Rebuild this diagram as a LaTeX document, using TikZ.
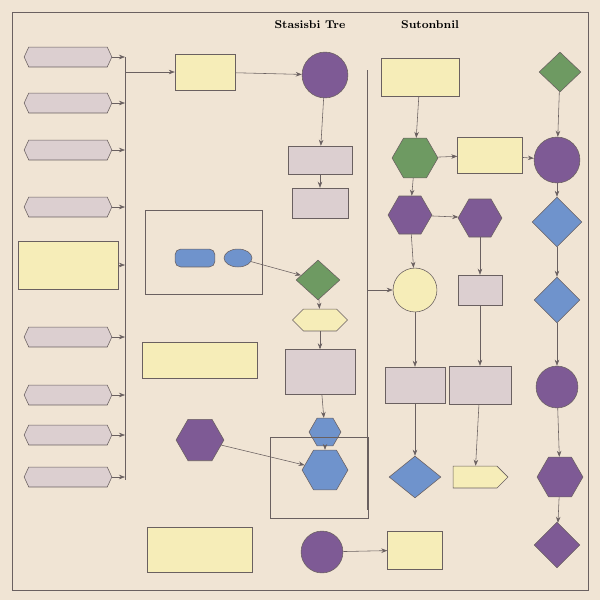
\documentclass[tikz,border=0pt]{standalone}
\usepackage[dvipsnames]{xcolor}
\usetikzlibrary{arrows.meta,shapes.geometric,shapes.symbols,positioning}
\definecolor{bg}{HTML}{F0E4D4}
\definecolor{paleyel}{HTML}{F6EDB8}
\definecolor{palegray}{HTML}{DCCFD0}
\definecolor{purp}{HTML}{7E5A95}
\definecolor{blu}{HTML}{6F93CC}
\definecolor{grn}{HTML}{6E9A62}
\definecolor{edge}{HTML}{6A6060}
\newcommand\pxu{0.709pt}
\tikzset{
  w/.style={minimum width=#1*\pxu},
  h/.style={minimum height=#1*\pxu},
  sz/.style={minimum size=#1*\pxu},
  tagbox/.style={draw=edge,fill=palegray,signal,signal to=west and east,signal pointer angle=130,w=88,h=20,inner sep=0pt,font=\tiny},
  yelbox/.style={draw=edge,fill=paleyel,w=#1,h=30,inner sep=0pt,font=\tiny},
  graybox/.style={draw=edge,fill=palegray,w=60,h=30,inner sep=0pt,font=\tiny},
  hexa/.style={draw=edge,fill=#1,regular polygon,regular polygon sides=6,sz=40,inner sep=0pt,font=\tiny,text=white},
  diam/.style={draw=edge,fill=#1,diamond,w=44,h=40,inner sep=0pt,font=\tiny,text=white},
  circ/.style={draw=edge,fill=#1,circle,sz=46,inner sep=0pt,font=\tiny,text=white},
  conn/.style={draw=edge,thin,-{Stealth[length=1.5mm]}},
  plain/.style={draw=edge,thin}
}
\begin{document}
\begin{tikzpicture}[x=0.025cm,y=-0.025cm]
\fill[bg] (0,0) rectangle (600,600);
\draw[edge] (12,12) rectangle (588,590);
\node[font=\footnotesize\bfseries] (t1) at (310,25) {Stasisbi Tre};
\node[font=\footnotesize\bfseries] (t2) at (430,25) {Sutonbnil};
% left column
\foreach[count=\i] \y in {57,103,150,207,337,395,435,477} {
  \node[tagbox] (l\i) at (68,\y) {};
}
\node[yelbox=100,h=48] (ly) at (68,265) {};
\draw[plain] (125,57) -- (125,480);
\foreach \n in {l1,l2,l3,l4,ly,l5,l6,l7,l8} {
  \draw[conn] (\n.east) -- (\n.east -| 125,0);
}
% middle
\node[yelbox=60,h=36] (y1) at (205,72) {};
\node[circ=purp,sz=46] (p1) at (325,75) {};
\draw[plain] (145,210) rectangle (262,294);
\node[draw=edge,fill=blu,rounded corners,w=40,h=18] (b1) at (195,258) {};
\node[draw=edge,fill=blu,ellipse,w=28,h=18,inner sep=0pt] (b2) at (238,258) {};
\node[graybox,w=64,h=28] (g1) at (320,160) {};
\node[graybox,w=56,h=30] (g2) at (320,203) {};
\node[diam=grn] (d1) at (318,280) {};
\node[draw=edge,fill=paleyel,signal,signal to=west and east,w=55,h=22,inner sep=0pt] (s1) at (320,320) {};
\node[yelbox=115,h=36] (y2) at (200,360) {};
\node[graybox,w=70,h=45] (g3) at (320,372) {};
\node[hexa=blu,sz=32] (h1) at (325,432) {};
\node[hexa=blu,sz=46] (h2) at (325,470) {};
\draw[plain] (270,437) rectangle (368,518);
\node[hexa=purp,sz=48] (h3) at (200,440) {};
\node[yelbox=105,h=45] (y3) at (200,550) {};
\node[circ=purp,sz=42] (p2) at (322,552) {};
\node[yelbox=55,h=38] (y4) at (415,550) {};
\draw[plain] (367,70) -- (367,510);
% right
\node[yelbox=78,h=38] (y5) at (420,77) {};
\node[diam=grn,w=42,h=40] (d2) at (560,72) {};
\node[hexa=grn,sz=46] (h4) at (415,158) {};
\node[yelbox=65,h=36] (y6) at (490,155) {};
\node[circ=purp] (p3) at (557,160) {};
\node[hexa=purp,sz=44] (h5) at (410,215) {};
\node[hexa=purp,sz=44] (h6) at (480,218) {};
\node[diam=blu,w=50,h=50] (d3) at (557,222) {};
\node[draw=edge,fill=paleyel,circle,sz=44] (c1) at (415,290) {};
\node[graybox,w=44,h=30] (g4) at (480,290) {};
\node[diam=blu,w=46,h=46] (d4) at (557,300) {};
\node[graybox,w=60,h=36] (g5) at (415,385) {};
\node[graybox,w=62,h=38] (g6) at (480,385) {};
\node[circ=purp,sz=42] (p4) at (557,387) {};
\node[diam=blu,w=52,h=42] (d5) at (415,477) {};
\node[draw=edge,fill=paleyel,signal,signal to=east,w=55,h=22,inner sep=0pt] (s2) at (475,477) {};
\node[hexa=purp,sz=46] (h7) at (560,477) {};
\node[diam=purp,w=46,h=46] (d6) at (557,545) {};
% connectors
\draw[conn] (125,72) -- (y1);
\draw[conn] (y1) -- (p1);
\draw[conn] (p1) -- (g1);
\draw[conn] (g1) -- (g2);
\draw[conn] (b2) -- (d1);
\draw[conn] (d1) -- (s1);
\draw[conn] (s1) -- (g3);
\draw[conn] (g3) -- (h1);
\draw[conn] (h1) -- (h2);
\draw[conn] (h3) -- (h2);
\draw[conn] (p2) -- (y4);
\draw[conn] (y5) -- (h4);
\draw[conn] (h4) -- (y6);
\draw[conn] (y6) -- (p3);
\draw[conn] (h4) -- (h5);
\draw[conn] (h5) -- (h6);
\draw[conn] (p3) -- (d3);
\draw[conn] (h5) -- (c1);
\draw[conn] (h6) -- (g4);
\draw[conn] (d3) -- (d4);
\draw[conn] (c1) -- (g5);
\draw[conn] (g4) -- (g6);
\draw[conn] (d4) -- (p4);
\draw[conn] (g5) -- (d5);
\draw[conn] (g6) -- (s2);
\draw[conn] (p4) -- (h7);
\draw[conn] (h7) -- (d6);
\draw[conn] (d2) -- (p3);
\draw[conn] (367,290) -- (c1);
\end{tikzpicture}
\end{document}
